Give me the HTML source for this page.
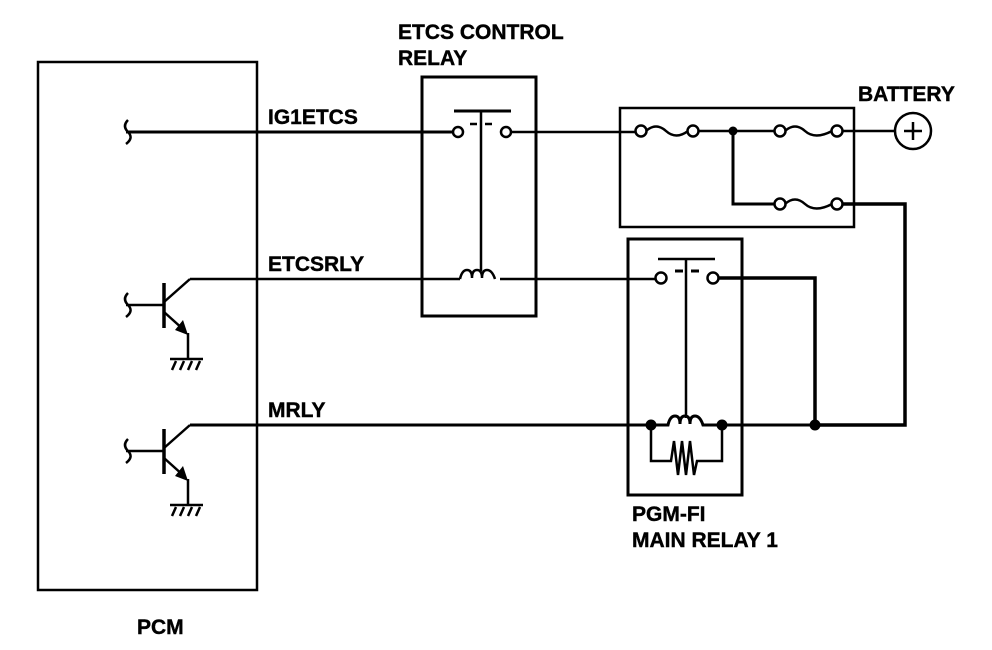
<!DOCTYPE html>
<html><head><style>
body{margin:0;background:#fff;}
svg{display:block}
text{font-family:"Liberation Sans",sans-serif;font-weight:bold;font-size:21px;fill:#000;stroke:#000;stroke-width:0.4}
</style></head><body>
<svg width="992" height="650" viewBox="0 0 992 650" xmlns="http://www.w3.org/2000/svg">
<g fill="none" stroke="#000" stroke-width="2.5">
<rect x="38" y="62" width="219" height="528"/>
<path d="M128 120 q-6 6 0 12 q6 6 -2 12" />
<line x1="126" y1="132" x2="453" y2="132" stroke-width="3"/>
<g>
<path d="M128 293 q-6 6 0 12 q6 6 -2 12"/>
<line x1="126" y1="305" x2="164" y2="305"/>
<line x1="164" y1="283" x2="164" y2="328" stroke-width="3.5"/>
<line x1="164" y1="302" x2="190" y2="279"/>
<line x1="164" y1="312" x2="184" y2="330"/>
<line x1="188" y1="333" x2="188" y2="358"/>
<line x1="170" y1="359" x2="203" y2="359"/>
<path d="M176 361 l-4 9 M184 361 l-4 9 M192 361 l-4 9 M200 361 l-4 9"/>
<polygon points="188,335 175,330 183,320" fill="#000" stroke="none"/>
</g>
<g transform="translate(0,146)">
<path d="M128 293 q-6 6 0 12 q6 6 -2 12"/>
<line x1="126" y1="305" x2="164" y2="305"/>
<line x1="164" y1="283" x2="164" y2="328" stroke-width="3.5"/>
<line x1="164" y1="302" x2="190" y2="279"/>
<line x1="164" y1="312" x2="184" y2="330"/>
<line x1="188" y1="333" x2="188" y2="358"/>
<line x1="170" y1="359" x2="203" y2="359"/>
<path d="M176 361 l-4 9 M184 361 l-4 9 M192 361 l-4 9 M200 361 l-4 9"/>
<polygon points="188,335 175,330 183,320" fill="#000" stroke="none"/>
</g>
<line x1="190" y1="279" x2="460" y2="279"/>
<rect x="422" y="77" width="114" height="239" stroke-width="3"/>
<line x1="454" y1="111" x2="511" y2="111" stroke-width="3"/>
<line x1="481" y1="111" x2="481" y2="271"/>
<line x1="470" y1="124" x2="477" y2="124"/><line x1="485" y1="124" x2="492" y2="124"/>
<circle cx="458" cy="132" r="5" fill="#fff"/>
<circle cx="506" cy="132" r="5" fill="#fff"/>
<path d="M460 279 q2 -9 7 -9 q5 0 5 8 q0 -8 5 -8 q5 0 5 8 q0 -8 5 -8 q5 0 8 9" />
<line x1="500" y1="279" x2="656" y2="279"/>
<line x1="511" y1="132" x2="636" y2="132"/>
<rect x="620" y="108" width="234" height="119"/>
<circle cx="641" cy="131" r="5.5" fill="#fff"/>
<path d="M646 131 q10 -9 20 0 q10 9 22 0"/>
<circle cx="693" cy="131" r="5.5" fill="#fff"/>
<line x1="698" y1="131" x2="775" y2="131"/>
<circle cx="780" cy="131" r="5.5" fill="#fff"/>
<path d="M785 131 q10 -9 20 0 q10 9 27 0"/>
<circle cx="837" cy="131" r="5.5" fill="#fff"/>
<line x1="842" y1="131" x2="895" y2="131"/>
<circle cx="913" cy="131" r="18"/>
<line x1="904" y1="131" x2="922" y2="131"/><line x1="913" y1="122" x2="913" y2="140"/>
<path d="M733 131 V204 H775" stroke-width="3"/>
<circle cx="780" cy="204" r="5.5" fill="#fff"/>
<path d="M785 204 q10 -9 20 0 q10 9 27 0"/>
<circle cx="837" cy="204" r="5.5" fill="#fff"/>
<path d="M842 204 H905 V425 H815" stroke-width="3.5"/>
<rect x="628" y="239" width="114" height="256" stroke-width="3"/>
<line x1="658" y1="259" x2="715" y2="259"/>
<line x1="686" y1="259" x2="686" y2="418"/>
<line x1="675" y1="271" x2="683" y2="271" stroke-width="3"/><line x1="691" y1="271" x2="699" y2="271" stroke-width="3"/>
<circle cx="661" cy="278" r="5.5" fill="#fff"/>
<circle cx="713" cy="278" r="5.5" fill="#fff"/>
<path d="M718 278 H815 V425" stroke-width="3.5"/>
<line x1="190" y1="425" x2="651" y2="425" stroke-width="3"/>
<path d="M651 425 H668 q2 -9 7 -9 q5 0 5 8 q0 -8 5 -8 q5 0 5 8 q0 -8 5 -8 q5 0 8 9 H815" stroke-width="3"/>
<path d="M651 425 V461 H671 l3 -20 l4 34 l4 -34 l4 34 l4 -34 l4 34 l3 -14 H722 V425"/>
</g>
<g fill="#000">
<circle cx="733" cy="131" r="4.5"/>
<circle cx="651" cy="425" r="5.5"/>
<circle cx="722" cy="425" r="5.5"/>
<circle cx="815" cy="425" r="5.5"/>
</g>
<text x="268" y="124">IG1ETCS</text>
<text x="268" y="271">ETCSRLY</text>
<text x="268" y="417">MRLY</text>
<text x="398" y="39">ETCS CONTROL</text>
<text x="398" y="65">RELAY</text>
<text x="858" y="101">BATTERY</text>
<text x="632" y="521">PGM-FI</text>
<text x="632" y="547">MAIN RELAY 1</text>
<text x="137" y="634">PCM</text>
</svg>
</body></html>
